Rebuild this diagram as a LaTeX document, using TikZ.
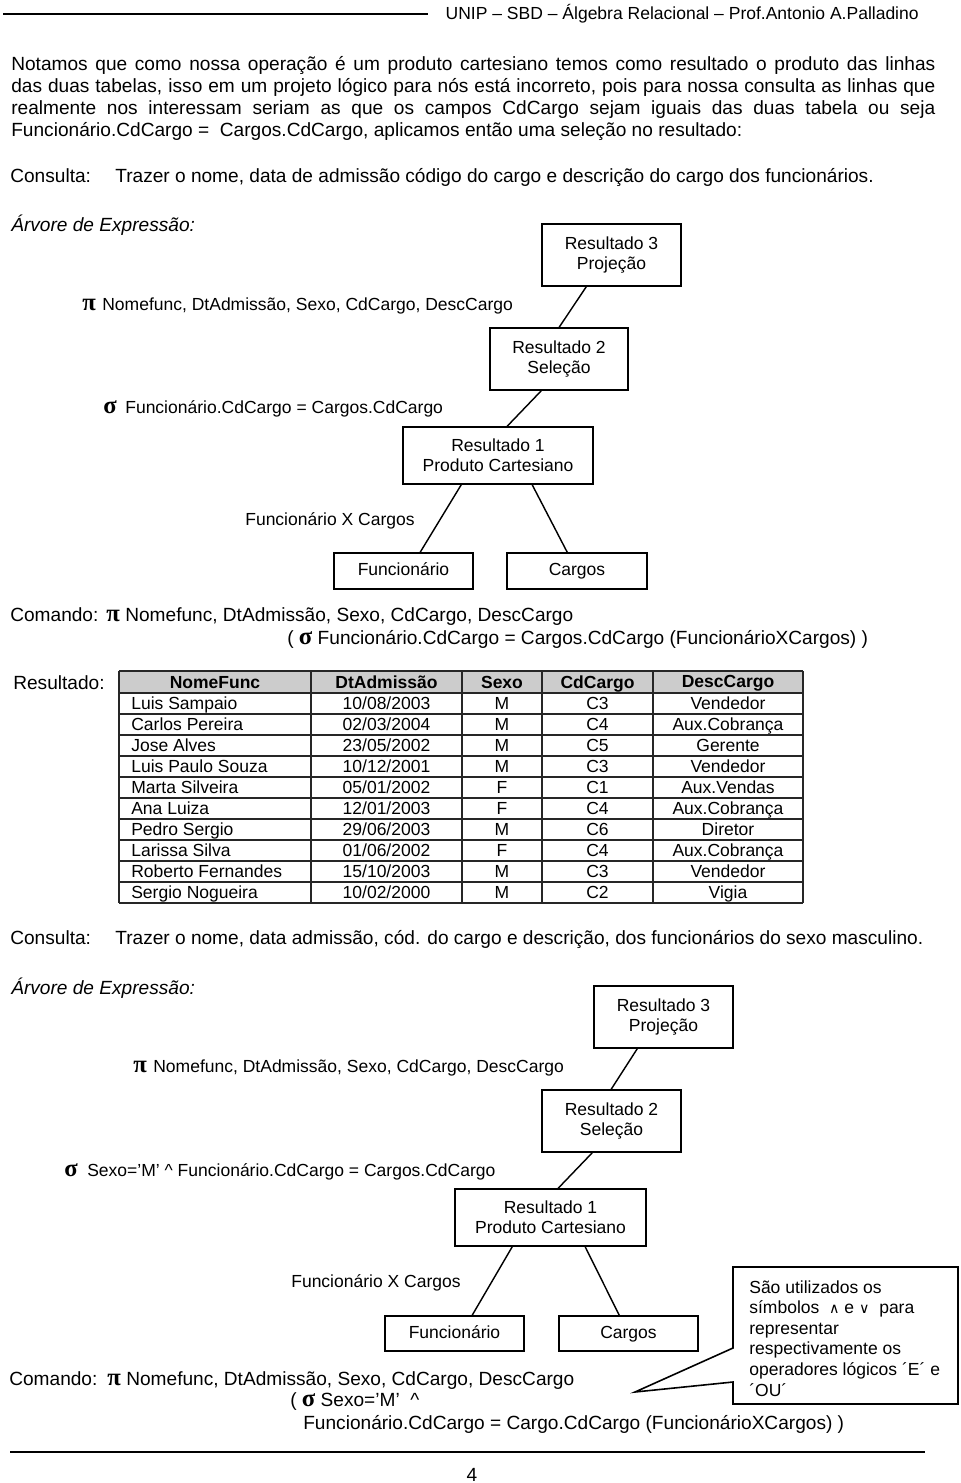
\documentclass[tikz,border=0pt]{standalone}
\usepackage{fontspec}
\setmainfont{Liberation Sans}
\newfontfamily\grkfont{Liberation Serif}
\newfontfamily\symfont{DejaVu Sans}
\usetikzlibrary{calc}
\newlength\pxu
\setlength\pxu{0.6283pt}
\newcommand\bodyf{\fontsize{12}{13.8}\selectfont}
\newcommand\smallf{\fontsize{11}{12.6}\selectfont}
\newcommand\PIg{\smash{\grkfont\bfseries\fontsize{15.5}{15}\selectfont π}}
\newcommand\SIGg{\smash{\grkfont\bfseries\fontsize{15.5}{15}\selectfont σ}}
\newcommand\jline[1]{\hbox to 924\pxu{#1}}
\newcommand\smsym[1]{{\symfont\fontsize{9}{9}\selectfont #1}}
\begin{document}
\begin{tikzpicture}[x=0.6283pt,y=-0.6283pt,
  txt/.style={anchor=base west, inner sep=0pt, font=\bodyf},
  stxt/.style={anchor=base west, inner sep=0pt, font=\smallf},
  cell/.style={anchor=base, inner sep=0pt, font=\smallf},
  hcell/.style={anchor=base, inner sep=0pt, font=\smallf\bfseries},
  rbox/.style={draw, line width=1pt, inner sep=0pt, align=center, font=\smallf},
  sbox/.style={rbox, text height=8pt, text depth=2.2pt},
  link/.style={line width=0.9pt},
  rule/.style={line width=1.1pt},
  tline/.style={line width=0.9pt, draw=black!85}]
\fill[white] (0,0) rectangle (960,1483);
\useasboundingbox (0,0) rectangle (960,1483);

% header
\draw[rule] (3,14) -- (428,14);
\node[anchor=base east, inner sep=0pt, font=\smallf] (hdr) at (919,20) {UNIP – SBD – Álgebra Relacional – Prof.Antonio A.Palladino};

% paragraph
\node[txt] (p1) at (11,71) {\jline{Notamos que como nossa operação é um produto cartesiano temos como resultado o produto das linhas}};
\node[txt] (p2) at (11,93) {\jline{das duas tabelas, isso em um projeto lógico para nós está incorreto, pois para nossa consulta as linhas que}};
\node[txt] (p3) at (11,115) {\jline{realmente nos interessam seriam as que os campos CdCargo sejam iguais das duas tabela ou seja}};
\node[txt] (p4) at (11,137) {Funcionário.CdCargo = \ Cargos.CdCargo, aplicamos então uma seleção no resultado:};

% consulta 1
\node[txt] (c1a) at (10,183) {Consulta:};
\node[txt] (c1b) at (115,183) {Trazer o nome, data de admissão código do cargo e descrição do cargo dos funcionários.};
\node[txt, font=\bodyf\itshape] (arv1) at (11,231) {Árvore de Expressão:};

% tree 1
\node[rbox, minimum width=139\pxu, minimum height=62\pxu] (a3) at (611.5,255) {Resultado 3\\Projeção};
\node[rbox, minimum width=138\pxu, minimum height=62\pxu] (a2) at (559,359) {Resultado 2\\Seleção};
\node[rbox, minimum width=190\pxu, minimum height=57\pxu] (a1) at (498,455.5) {Resultado 1\\Produto Cartesiano};
\node[sbox, minimum width=139\pxu, minimum height=36\pxu] (af) at (403.5,571) {Funcionário};
\node[sbox, minimum width=140\pxu, minimum height=36\pxu] (ac) at (577,571) {Cargos};
\draw[link] ($(a3.south west)+(45,0)$) -- ($(a2.north west)+(70,0)$);
\draw[link] ($(a2.south west)+(52,0)$) -- ($(a1.north west)+(105,0)$);
\draw[link] ($(a1.south west)+(59,0)$) -- ($(af.north west)+(87,0)$);
\draw[link] ($(a1.south west)+(130,0)$) -- ($(ac.north west)+(61,0)$);

\node[stxt] (api) at (82,310) {\PIg};
\node[stxt] (apt) at (102,310) {Nomefunc, DtAdmissão, Sexo, CdCargo, DescCargo};
\node[stxt] (asg) at (103,413) {\SIGg};
\node[stxt] (ast) at (125,413) {Funcionário.CdCargo = Cargos.CdCargo};
\node[stxt] (ax) at (245,525) {Funcionário X Cargos};

% comando 1
\node[txt] (cm1) at (10,621) {Comando:};
\node[txt] (cm1p) at (106,621) {\PIg};
\node[txt] (cm1t) at (125,621) {Nomefunc, DtAdmissão, Sexo, CdCargo, DescCargo};
\node[txt] (cm1b) at (287,644) {( \SIGg\ Funcionário.CdCargo = Cargos.CdCargo (FuncionárioXCargos) )};

% resultado table
\node[txt] (res) at (13,689) {Resultado:};
\fill[black!20] (119,671) rectangle (803,693);
\foreach \xx in {119,311,462,542,653,803} \draw[tline] (\xx,671) -- (\xx,903);
\draw[tline] (119,671) -- (803,671);
\draw[tline, line width=1.3pt] (119,693) -- (803,693);
\foreach \k in {1,...,10} \draw[tline] (119,{693+21*\k}) -- (803,{693+21*\k});
\node[hcell] (h1) at (215,688) {NomeFunc};
\node[hcell] (h2) at (386.5,688) {DtAdmissão};
\node[hcell] (h3) at (502,688) {Sexo};
\node[hcell] (h4) at (597.5,688) {CdCargo};
\node[hcell] (h5) at (728,687) {DescCargo};
\newcommand\trow[6]{%
 \pgfmathsetmacro\ry{693+21*(#1-1)+16.5}
 \node[stxt] (n#1) at (131,\ry) {#2};
 \node[cell] (d#1) at (386.5,\ry) {#3};
 \node[cell] (s#1) at (502,\ry) {#4};
 \node[cell] (k#1) at (597.5,\ry) {#5};
 \node[cell] (j#1) at (728,\ry) {#6};}
\trow{1}{Luis Sampaio}{10/08/2003}{M}{C3}{Vendedor}
\trow{2}{Carlos Pereira}{02/03/2004}{M}{C4}{Aux.Cobrança}
\trow{3}{Jose Alves}{23/05/2002}{M}{C5}{Gerente}
\trow{4}{Luis Paulo Souza}{10/12/2001}{M}{C3}{Vendedor}
\trow{5}{Marta Silveira}{05/01/2002}{F}{C1}{Aux.Vendas}
\trow{6}{Ana Luiza}{12/01/2003}{F}{C4}{Aux.Cobrança}
\trow{7}{Pedro Sergio}{29/06/2003}{M}{C6}{Diretor}
\trow{8}{Larissa Silva}{01/06/2002}{F}{C4}{Aux.Cobrança}
\trow{9}{Roberto Fernandes}{15/10/2003}{M}{C3}{Vendedor}
\trow{10}{Sergio Nogueira}{10/02/2000}{M}{C2}{Vigia}

% consulta 2
\node[txt] (c2a) at (10,944) {Consulta:};
\node[txt] (c2b) at (115,944) {Trazer o nome, data admissão, cód. do cargo e descrição, dos funcionários do sexo masculino.};
\node[txt, font=\bodyf\itshape] (arv2) at (11,994) {Árvore de Expressão:};

% tree 2
\node[rbox, minimum width=139\pxu, minimum height=62\pxu] (b3) at (663.5,1017) {Resultado 3\\Projeção};
\node[rbox, minimum width=139\pxu, minimum height=62\pxu] (b2) at (611.5,1121) {Resultado 2\\Seleção};
\node[rbox, minimum width=191\pxu, minimum height=57\pxu] (b1) at (550.5,1217.5) {Resultado 1\\Produto Cartesiano};
\node[sbox, minimum width=139\pxu, minimum height=35\pxu] (bf) at (454.5,1333.5) {Funcionário};
\node[sbox, minimum width=139\pxu, minimum height=35\pxu] (bc) at (628.5,1333.5) {Cargos};
\draw[link] ($(b3.south west)+(44,0)$) -- ($(b2.north west)+(70,0)$);
\draw[link] ($(b2.south west)+(51,0)$) -- ($(b1.north west)+(104,0)$);
\draw[link] ($(b1.south west)+(58,0)$) -- ($(bf.north west)+(88,0)$);
\draw[link] ($(b1.south west)+(131,0)$) -- ($(bc.north west)+(61,0)$);

\node[stxt] (bpi) at (133,1072) {\PIg};
\node[stxt] (bpt) at (153,1072) {Nomefunc, DtAdmissão, Sexo, CdCargo, DescCargo};
\node[stxt] (bsg) at (64,1176) {\SIGg};
\node[stxt] (bst) at (87,1176) {Sexo=’M’ \^{} Funcionário.CdCargo = Cargos.CdCargo};
\node[stxt] (bx) at (291,1287) {Funcionário X Cargos};

% callout
\coordinate (tip) at (635,1392);
\draw[line width=1pt, fill=white] (733,1267) -- (958,1267) -- (958,1404) -- (733,1404) -- (733,1382) -- (tip) -- (733,1348) -- cycle;
\node[anchor=base west, inner sep=0pt, align=left, font={\fontsize{11}{12.94}\selectfont}] (note) at (749,1396)
 {São utilizados os\\
  símbolos \ \smsym{∧} e \smsym{∨} \ para\\
  representar\\
  respectivamente os\\
  operadores lógicos ´E´ e\\
  ´OU´};

% comando 2
\node[txt] (cm2) at (9,1385) {Comando:};
\node[txt] (cm2p) at (107,1385) {\PIg};
\node[txt] (cm2t) at (126,1385) {Nomefunc, DtAdmissão, Sexo, CdCargo, DescCargo};
\node[txt] (cm2b) at (290,1406) {( \SIGg\ Sexo=’M’ \ \^{}};
\node[txt] (cm2c) at (303,1429) {Funcionário.CdCargo = Cargo.CdCargo (FuncionárioXCargos) )};

% footer
\draw[rule] (10,1452) -- (925,1452);
\node[anchor=base, inner sep=0pt, font=\bodyf] (pg) at (472,1481) {4};
\end{tikzpicture}
\end{document}
